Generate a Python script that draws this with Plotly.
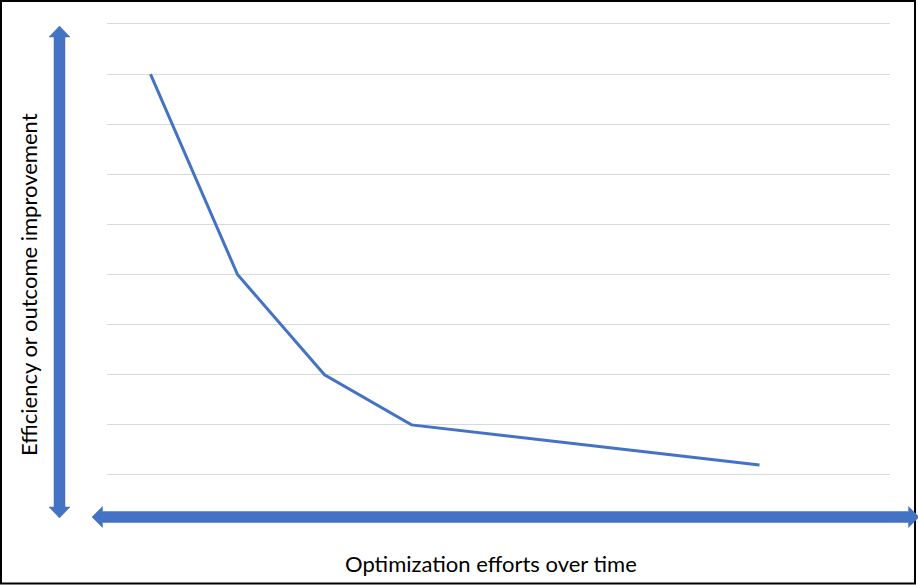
import plotly.graph_objects as go

# Data
x_values = [1, 2, 3, 4, 8]
y_values = [8, 4, 2, 1, 0.2]
x_label = "Optimization efforts over time"
y_label = "Efficiency or outcome improvement"

W, H = 918, 585
BLUE = "#4472C4"
UNIT = 50.11  # px per y unit


def px(x):
    return x / W


def py(y):
    return 1 - y / H


fig = go.Figure()
fig.add_trace(go.Scatter(
    x=x_values, y=y_values, mode="lines",
    line=dict(color=BLUE, width=3),
    hoverinfo="skip", showlegend=False,
))


def poly(points):
    d = "M " + " L ".join(f"{px(a):.5f},{py(b):.5f}" for a, b in points) + " Z"
    return dict(type="path", xref="paper", yref="paper", path=d,
                fillcolor=BLUE, line=dict(color=BLUE, width=0.5), layer="above")


shapes = [
    dict(type="rect", xref="paper", yref="paper",
         x0=px(1), x1=px(915), y0=py(1), y1=py(583.5),
         line=dict(color="black", width=2), fillcolor="rgba(0,0,0,0)", layer="above"),
    # vertical double arrow
    poly([(59.5, 26), (70, 37), (65, 37), (65, 507), (70, 507), (59.5, 518),
          (49, 507), (54, 507), (54, 37), (49, 37)]),
    # horizontal double arrow
    poly([(92, 517), (102.5, 506.5), (102.5, 511.5), (908.5, 511.5), (908.5, 506.5),
          (919, 517), (908.5, 527.5), (908.5, 522.5), (102.5, 522.5), (102.5, 527.5)]),
]

annotations = [
    dict(text=x_label, xref="paper", yref="paper", x=px(491.5), y=py(563),
         showarrow=False, xanchor="center", yanchor="middle",
         font=dict(family="Lato, Open Sans, sans-serif", size=22, color="#000000")),
    dict(text=y_label, xref="paper", yref="paper", x=px(28), y=py(285),
         showarrow=False, xanchor="center", yanchor="middle", textangle=-90,
         font=dict(family="Lato, Open Sans, sans-serif", size=22, color="#000000")),
]

pad = 0.2
fig.update_layout(
    width=W, height=H,
    margin=dict(l=0, r=0, t=0, b=0),
    paper_bgcolor="white", plot_bgcolor="white",
    shapes=shapes, annotations=annotations,
    xaxis=dict(domain=[px(107), px(890)], range=[0.5, 9.5],
               showgrid=False, zeroline=False, showticklabels=False,
               showline=False, ticks=""),
    yaxis=dict(domain=[py(475 + pad * UNIT), py(24 - pad * UNIT)],
               range=[-pad, 9 + pad],
               tickmode="linear", tick0=0, dtick=1,
               showgrid=True, gridcolor="#D9D9D9", gridwidth=1,
               zeroline=False, showticklabels=False, showline=False, ticks=""),
)

fig.write_html("out.html")
